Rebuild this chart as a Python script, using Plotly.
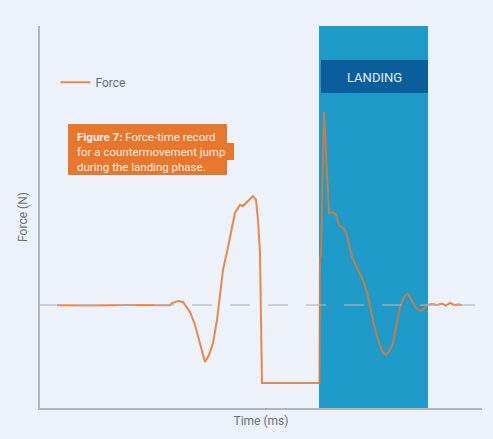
import plotly.graph_objects as go

# force-time record of a countermovement jump (time in ms, force in N)
time_ms = [68, 200, 350, 520, 528, 552, 572, 600, 620, 640, 660, 676, 692, 708,
           720, 732, 748, 760, 780, 800, 812, 820, 828, 840, 852, 864, 872, 880,
           888, 1000, 1116, 1118, 1120, 1124, 1136, 1156, 1172, 1184, 1196, 1212,
           1224, 1248, 1272, 1292, 1308, 1320, 1336, 1352, 1368, 1384, 1400, 1412,
           1428, 1440, 1456, 1468, 1480, 1492, 1508, 1524, 1540, 1552, 1568, 1588,
           1608, 1624, 1640, 1656, 1672, 1688]
force_n = [720, 718, 721, 720, 735, 749, 742, 672, 581, 441, 322, 371, 455, 616,
           777, 966, 1092, 1197, 1365, 1421, 1414, 1428, 1442, 1463, 1484, 1456, 1316, 1085,
           175, 175, 175, 175, 1050, 1064, 2072, 1365, 1372, 1351, 1281, 1260,
           1232, 1057, 966, 896, 812, 707, 581, 476, 399, 371, 406, 455,
           602, 707, 777, 798, 777, 735, 693, 679, 700, 721, 728, 721,
           731, 717, 735, 721, 724, 721]

body_weight = 721
landing_start, landing_end = 1116, 1552
x_max, y_max = 1768, 2674

ORANGE = "#E8772E"
BG = "#EDF1F9"
AXIS = "#B0B5BF"
TEXT = "#6B7079"

fig = go.Figure()
fig.add_trace(go.Scatter(
    x=time_ms, y=force_n, mode="lines", name="Force",
    line=dict(color=ORANGE, width=2), opacity=0.85,
))

shapes = [
    # landing phase band
    dict(type="rect", xref="x", yref="y", layer="below",
         x0=landing_start, x1=landing_end, y0=0, y1=y_max,
         fillcolor="#1F9BC9", line=dict(width=0)),
    dict(type="rect", xref="x", yref="y", layer="below",
         x0=landing_start + 8, x1=landing_end, y0=2205, y1=2436,
         fillcolor="#0B5E9C", line=dict(width=0)),
    # body-weight reference
    dict(type="line", xref="x", yref="y", x0=0, x1=1740, y0=body_weight, y1=body_weight,
         line=dict(color="rgba(175,180,190,0.75)", width=1.5, dash="20px,18px")),
    # caption background (stepped like the original)
    dict(type="rect", xref="x", yref="y", x0=112, x1=748, y0=1631, y1=1988,
         fillcolor=ORANGE, line=dict(width=0)),
    dict(type="rect", xref="x", yref="y", x0=112, x1=776, y0=1736, y1=1855,
         fillcolor=ORANGE, line=dict(width=0)),
]

caption = "<br>".join([
    "<b>Figure 7:</b> Force-time record",
    "for a countermovement jump",
    "during the landing phase.",
])
annotations = [
    dict(x=(landing_start + 8 + landing_end) / 2, y=2317, xref="x", yref="y",
         text="LANDING", showarrow=False,
         font=dict(family="Roboto", size=13, color="#E3EFF8")),
    dict(x=140, y=1960, xref="x", yref="y", xanchor="left", yanchor="top",
         align="left", text=caption, showarrow=False,
         font=dict(family="Roboto", size=11.5, color="#FBEDE3")),
]

fig.update_layout(
    width=493, height=439,
    paper_bgcolor=BG, plot_bgcolor=BG,
    margin=dict(l=40, r=11, t=26, b=31),
    font=dict(family="Roboto", size=12, color=TEXT),
    showlegend=True,
    legend=dict(x=0.035, y=0.853, xanchor="left", yanchor="middle",
                bgcolor="rgba(0,0,0,0)", font=dict(size=12, color=TEXT)),
    xaxis=dict(range=[0, x_max], showticklabels=False, ticks="", showgrid=False,
               zeroline=False, showline=True, linecolor=AXIS, linewidth=1.5,
               title=dict(text="Time (ms)", standoff=8, font=dict(size=12, color=TEXT))),
    yaxis=dict(range=[0, y_max], showticklabels=False, ticks="", showgrid=False,
               zeroline=False, showline=True, linecolor=AXIS, linewidth=1.5,
               title=dict(text="Force (N)", standoff=8, font=dict(size=12, color=TEXT))),
    shapes=shapes,
    annotations=annotations,
)

# drop the browser's default body margin so the figure fills the window
fig.write_html(
    "out.html",
    config={"displayModeBar": False},
    post_script=f"document.body.style.margin='0';document.body.style.background='{BG}';",
)
